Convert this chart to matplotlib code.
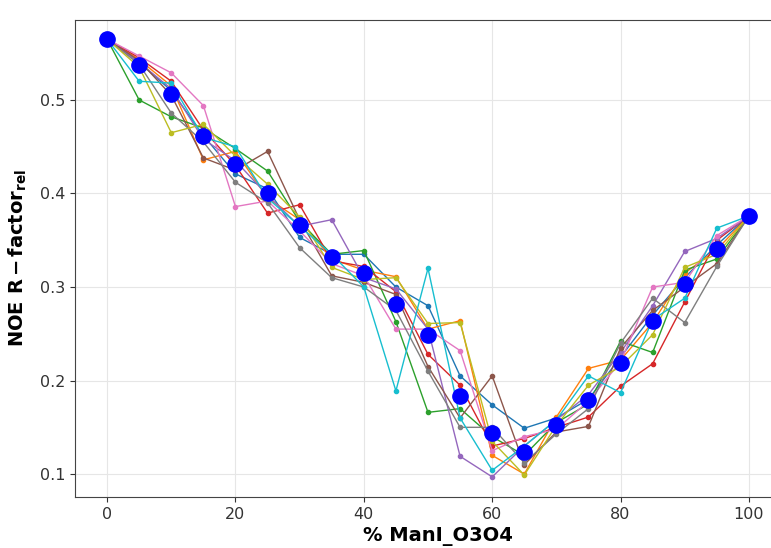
import numpy as np
import matplotlib
matplotlib.use("Agg")
import matplotlib.pyplot as plt

# % ManI_O3O4 composition
x_pct = np.arange(0, 101, 5)

# individual runs (tab10 order)
run_blue = [0.565, 0.540, 0.510, 0.462, 0.421, 0.405, 0.353, 0.335, 0.335, 0.300, 0.280,
            0.205, 0.174, 0.149, 0.160, 0.180, 0.225, 0.270, 0.310, 0.345, 0.376]
run_orange = [0.565, 0.543, 0.515, 0.436, 0.445, 0.395, 0.372, 0.330, 0.318, 0.311, 0.255,
              0.264, 0.120, 0.100, 0.161, 0.213, 0.222, 0.262, 0.315, 0.340, 0.376]
run_green = [0.565, 0.500, 0.482, 0.470, 0.448, 0.424, 0.370, 0.335, 0.339, 0.263, 0.166,
             0.170, 0.140, 0.120, 0.155, 0.175, 0.242, 0.230, 0.318, 0.330, 0.376]
run_red = [0.565, 0.545, 0.520, 0.468, 0.430, 0.379, 0.388, 0.328, 0.322, 0.295, 0.228,
           0.195, 0.130, 0.138, 0.150, 0.161, 0.194, 0.218, 0.284, 0.350, 0.376]
run_purple = [0.565, 0.540, 0.512, 0.458, 0.435, 0.398, 0.365, 0.372, 0.310, 0.298, 0.255,
              0.119, 0.097, 0.130, 0.158, 0.185, 0.230, 0.280, 0.338, 0.352, 0.376]
run_brown = [0.565, 0.542, 0.505, 0.438, 0.425, 0.445, 0.372, 0.312, 0.305, 0.292, 0.215,
             0.160, 0.205, 0.110, 0.145, 0.151, 0.235, 0.275, 0.300, 0.325, 0.376]
run_pink = [0.565, 0.547, 0.529, 0.494, 0.386, 0.392, 0.360, 0.325, 0.312, 0.255, 0.255,
            0.232, 0.125, 0.140, 0.148, 0.178, 0.220, 0.300, 0.305, 0.355, 0.376]
run_gray = [0.565, 0.538, 0.486, 0.455, 0.412, 0.390, 0.342, 0.310, 0.300, 0.275, 0.210,
            0.150, 0.150, 0.112, 0.143, 0.170, 0.240, 0.288, 0.262, 0.322, 0.376]
run_olive = [0.565, 0.535, 0.465, 0.474, 0.440, 0.410, 0.375, 0.321, 0.308, 0.310, 0.261,
             0.262, 0.135, 0.099, 0.152, 0.195, 0.215, 0.249, 0.321, 0.335, 0.376]
run_cyan = [0.565, 0.520, 0.518, 0.460, 0.450, 0.395, 0.365, 0.335, 0.300, 0.189, 0.320,
            0.160, 0.104, 0.130, 0.158, 0.205, 0.187, 0.265, 0.288, 0.363, 0.376]

runs = [run_blue, run_orange, run_green, run_red, run_purple,
        run_brown, run_pink, run_gray, run_olive, run_cyan]

# averaged R-factor (big blue dots)
r_mean = [0.565, 0.537, 0.506, 0.461, 0.432, 0.401, 0.366, 0.332, 0.315, 0.282, 0.249,
          0.184, 0.144, 0.124, 0.153, 0.179, 0.219, 0.264, 0.303, 0.341, 0.376]

fig = plt.figure(figsize=(7.71, 5.48), dpi=100)
# axes run past the right edge of the picture (right spine is cut off)
ax = fig.add_axes([75 / 771, 51 / 548, 725 / 771, 477 / 548])

colors = plt.rcParams["axes.prop_cycle"].by_key()["color"]
for i, run in enumerate(runs):
    ax.plot(x_pct, run, "-o", color=colors[i], lw=1.0, ms=3)

ax.plot(x_pct, r_mean, "o", color="#0000ff", ms=11, zorder=5)

ax.set_xlim(-5, 105 + 19 / 6.42)
ax.set_ylim(0.0755, 0.5855)
ax.set_yticks([0.1, 0.2, 0.3, 0.4, 0.5])
ax.set_xticks([0, 20, 40, 60, 80, 100])
ax.tick_params(labelsize=11.5, colors="#333333")
ax.grid(True, color="#e6e6e6", lw=0.8)
ax.set_axisbelow(True)
for s in ax.spines.values():
    s.set_color("#444444")

ax.set_xlabel("% ManI_O3O4", fontsize=14, fontweight="bold", labelpad=4)
ax.set_ylabel(r"NOE R$\,\mathbf{-}\,$factor$_{\mathbf{rel}}$", fontsize=14,
              fontweight="bold", labelpad=8)

fig.savefig("out.png", dpi=100)
